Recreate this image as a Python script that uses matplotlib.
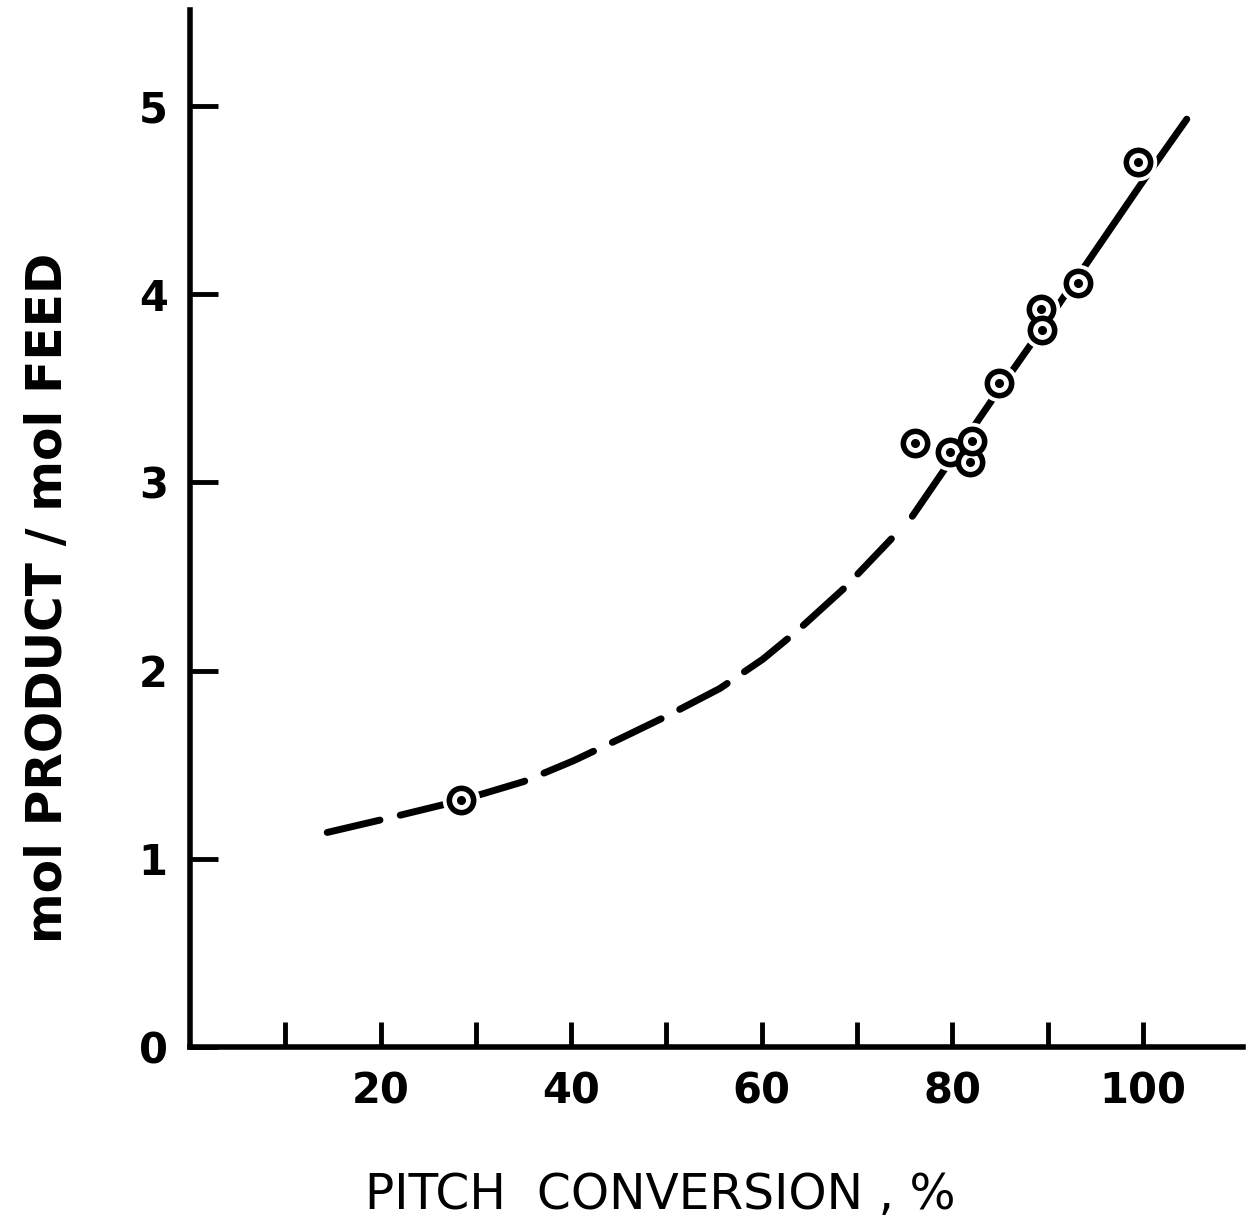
import matplotlib

matplotlib.use("Agg")
import matplotlib.pyplot as plt

# measured points: pitch conversion (%) vs mol product / mol feed
conversion = [28.4, 76.05, 79.8, 81.8, 82.1, 84.9, 89.3, 89.4, 93.2, 99.5]
mol_ratio = [1.31, 3.21, 3.16, 3.11, 3.22, 3.53, 3.92, 3.81, 4.06, 4.70]

# hand-drawn curve, dashed (extrapolated) part and solid part
dash_x = [14.4, 20.3, 28.4, 35.0, 40.2, 45.0, 50.1, 55.6, 60.1, 63.7, 68.7, 73.6]
dash_y = [1.14, 1.21, 1.31, 1.41, 1.52, 1.635, 1.76, 1.905, 2.06, 2.21, 2.44, 2.70]
solid_x = [75.8, 80.0, 85.0, 90.0, 95.0, 100.0, 104.6]
solid_y = [2.82, 3.13, 3.50, 3.86, 4.23, 4.60, 4.93]

x_ticks = [10, 20, 30, 40, 50, 60, 70, 80, 90, 100]
x_tick_labels = ["", "20", "", "40", "", "60", "", "80", "", "100"]
y_ticks = [0, 1, 2, 3, 4, 5]

plt.rcParams["font.family"] = ["DejaVu Sans"]

fig = plt.figure(figsize=(12.51, 12.30), dpi=100)
fig.patch.set_facecolor("white")
ax = fig.add_axes([190 / 1251, 1 - 1047 / 1230, (1243 - 190) / 1251, (1047 - 10) / 1230])
ax.set_facecolor("white")

line, = ax.plot(dash_x, dash_y, color="black", linewidth=5, solid_capstyle="round",
                dash_capstyle="round", linestyle="--")
line.set_dashes((7.8, 3.0))
ax.plot(solid_x, solid_y, color="black", linewidth=5, solid_capstyle="round")

# white halo, ring, centre dot
ax.plot(conversion, mol_ratio, linestyle="none", marker="o", markersize=27,
        markerfacecolor="white", markeredgecolor="white", markeredgewidth=0, zorder=3)
ax.plot(conversion, mol_ratio, linestyle="none", marker="o", markersize=17.5,
        markerfacecolor="white", markeredgecolor="black", markeredgewidth=4, zorder=4)
ax.plot(conversion, mol_ratio, linestyle="none", marker="o", markersize=5.5,
        color="black", zorder=5)

ax.set_xlim(0, 110.5)
ax.set_ylim(0, 5.51)

ax.set_xticks(x_ticks)
ax.set_xticklabels(x_tick_labels, fontsize=30, fontweight="bold")
ax.set_yticks(y_ticks)
ax.set_yticklabels([str(v) for v in y_ticks], fontsize=30, fontweight="bold")
ax.tick_params(axis="x", direction="in", length=18, width=3.5, pad=17)
ax.tick_params(axis="y", direction="in", length=20, width=3.5, pad=16)

for spine in ("top", "right"):
    ax.spines[spine].set_visible(False)
ax.spines["left"].set_linewidth(4)
ax.spines["bottom"].set_linewidth(4)

fig.text(660 / 1251, 1 - 1195 / 1230, "PITCH  CONVERSION , %", fontsize=35,
         ha="center", va="center")
fig.text(48 / 1251, 1 - 598 / 1230, "mol PRODUCT / mol FEED", fontsize=35,
         fontweight="bold", rotation=90, ha="center", va="center")

fig.savefig("out.png", dpi=100)
plt.close(fig)
